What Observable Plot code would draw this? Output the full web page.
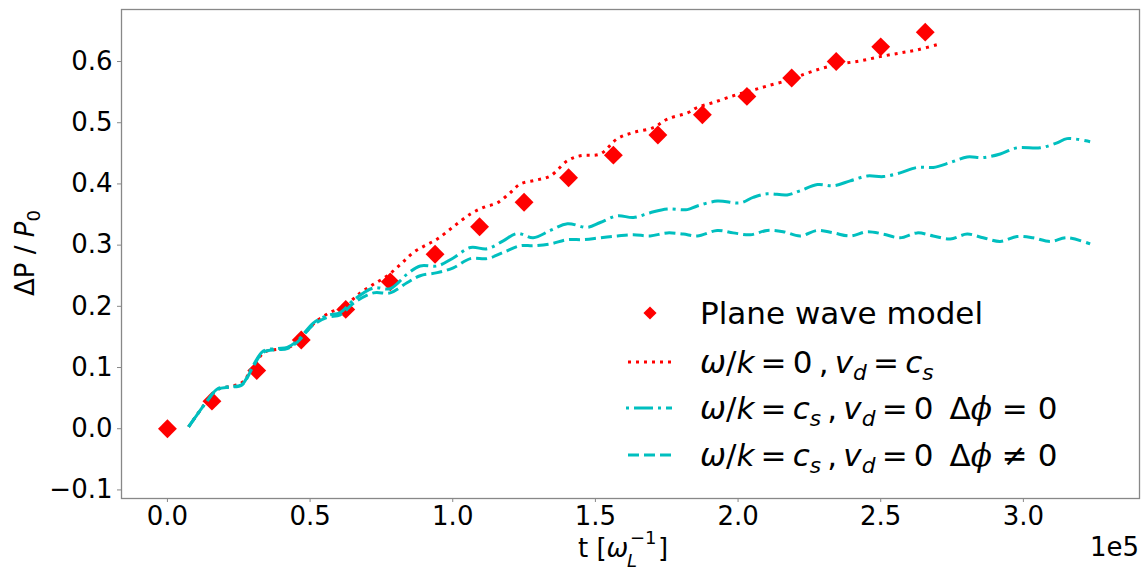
<!DOCTYPE html>
<html>
<head>
<meta charset="utf-8">
<script src="https://cdn.jsdelivr.net/npm/d3@7"></script>
<script src="https://cdn.jsdelivr.net/npm/@observablehq/plot@0.6"></script>
<style>
  html, body { margin: 0; padding: 0; background: #fff; }
  #chart { width: 1146px; height: 572px; }
</style>
</head>
<body>
<div id="chart"></div>
<script>
// time in units of 1e5 (omega_L^-1)
const tModel = [0, 0.156, 0.313, 0.469, 0.625, 0.781, 0.938, 1.094, 1.25, 1.406, 1.563, 1.719, 1.875, 2.031, 2.188, 2.344, 2.5, 2.656];
const yModel = [0.0, 0.045, 0.095, 0.145, 0.195, 0.24, 0.285, 0.33, 0.37, 0.41, 0.447, 0.48, 0.513, 0.543, 0.573, 0.6, 0.624, 0.648];

const tRed = [0.074, 0.14, 0.175, 0.22, 0.26, 0.30, 0.34, 0.39, 0.43, 0.47, 0.52, 0.57, 0.62, 0.676, 0.722, 0.771, 0.82, 0.862, 0.906, 0.946, 1.002, 1.062, 1.11, 1.156, 1.20, 1.237, 1.29, 1.342, 1.402, 1.447, 1.517, 1.577, 1.633, 1.703, 1.752, 1.822, 1.857, 1.913, 1.983, 2.043, 2.102, 2.172, 2.218, 2.288, 2.358, 2.428, 2.498, 2.568, 2.628, 2.709];
const yRed = [0.003, 0.046, 0.064, 0.069, 0.075, 0.10, 0.125, 0.13, 0.134, 0.15, 0.175, 0.19, 0.20, 0.222, 0.236, 0.25, 0.27, 0.288, 0.30, 0.31, 0.33, 0.351, 0.362, 0.369, 0.385, 0.40, 0.406, 0.413, 0.438, 0.446, 0.449, 0.474, 0.484, 0.492, 0.506, 0.516, 0.525, 0.533, 0.544, 0.552, 0.56, 0.569, 0.577, 0.588, 0.596, 0.601, 0.608, 0.614, 0.619, 0.629];

const tDashDot = [0.074, 0.14, 0.175, 0.22, 0.26, 0.30, 0.336, 0.385, 0.42, 0.456, 0.512, 0.561, 0.606, 0.652, 0.722, 0.781, 0.841, 0.886, 0.946, 1.002, 1.062, 1.121, 1.177, 1.226, 1.282, 1.342, 1.402, 1.472, 1.517, 1.577, 1.633, 1.692, 1.752, 1.822, 1.857, 1.927, 2.008, 2.053, 2.102, 2.172, 2.218, 2.278, 2.334, 2.393, 2.453, 2.509, 2.568, 2.628, 2.684, 2.744, 2.803, 2.859, 2.919, 2.978, 3.059, 3.118, 3.153, 3.234];
const yDashDot = [0.003, 0.046, 0.065, 0.069, 0.072, 0.103, 0.127, 0.131, 0.133, 0.144, 0.173, 0.185, 0.19, 0.21, 0.23, 0.229, 0.253, 0.266, 0.266, 0.279, 0.296, 0.294, 0.307, 0.319, 0.312, 0.324, 0.335, 0.329, 0.337, 0.348, 0.345, 0.353, 0.359, 0.358, 0.364, 0.372, 0.369, 0.378, 0.384, 0.382, 0.389, 0.399, 0.397, 0.405, 0.413, 0.412, 0.418, 0.427, 0.427, 0.435, 0.444, 0.443, 0.449, 0.459, 0.459, 0.467, 0.474, 0.469];

const tDashed = [0.074, 0.14, 0.175, 0.22, 0.26, 0.30, 0.336, 0.385, 0.42, 0.456, 0.512, 0.561, 0.606, 0.652, 0.722, 0.781, 0.841, 0.886, 0.946, 1.002, 1.062, 1.121, 1.177, 1.237, 1.282, 1.342, 1.402, 1.458, 1.517, 1.577, 1.633, 1.692, 1.752, 1.808, 1.857, 1.927, 1.983, 2.043, 2.102, 2.158, 2.218, 2.278, 2.334, 2.393, 2.453, 2.509, 2.568, 2.628, 2.684, 2.744, 2.803, 2.859, 2.919, 2.978, 3.034, 3.094, 3.153, 3.234];
const yDashed = [0.003, 0.046, 0.064, 0.068, 0.071, 0.101, 0.125, 0.129, 0.131, 0.142, 0.17, 0.182, 0.186, 0.205, 0.222, 0.222, 0.239, 0.25, 0.255, 0.263, 0.278, 0.278, 0.288, 0.299, 0.299, 0.302, 0.309, 0.309, 0.312, 0.315, 0.317, 0.315, 0.320, 0.318, 0.315, 0.324, 0.320, 0.317, 0.324, 0.322, 0.315, 0.324, 0.320, 0.315, 0.322, 0.318, 0.312, 0.320, 0.315, 0.310, 0.318, 0.312, 0.306, 0.314, 0.312, 0.306, 0.312, 0.302];

const xTicks = [0, 0.5, 1.0, 1.5, 2.0, 2.5, 3.0];
const yTicks = [-0.1, 0, 0.1, 0.2, 0.3, 0.4, 0.5, 0.6];

const RED = "#ff0000";
const CYAN = "#00bfbf";

const model = tModel.map((t, i) => ({t, y: yModel[i]}));
const red = tRed.map((t, i) => ({t, y: yRed[i]}));
const dashDot = tDashDot.map((t, i) => ({t, y: yDashDot[i]}));
const dashed = tDashed.map((t, i) => ({t, y: yDashed[i]}));

const W = 1146, H = 572;
const mL = 121, mR = 7, mT = 9, mB = 74;
const TICK_FS = 26;

const chart = Plot.plot({
  width: W,
  height: H,
  marginLeft: mL,
  marginRight: mR,
  marginTop: mT,
  marginBottom: mB,
  style: {fontFamily: "DejaVu Sans", fontSize: TICK_FS + "px", color: "#000", background: "#fff", overflow: "visible"},
  x: {domain: [-0.161, 3.407]},
  y: {domain: [-0.114, 0.685]},
  marks: [
    Plot.axisX({ticks: xTicks, tickFormat: d3.format(".1f"), tickSize: 4, tickPadding: 4, stroke: "#888", fill: "#000", label: null}),
    Plot.axisY({ticks: yTicks, tickFormat: d3.format(".1f"), tickSize: 4, tickPadding: 5, stroke: "#888", fill: "#000", label: null}),
    Plot.dot(model, {x: "t", y: "y", symbol: "diamond2", r: 8.5, fill: RED, stroke: "none"}),
    Plot.line(red, {x: "t", y: "y", stroke: RED, strokeWidth: 3, strokeDasharray: "3,5", strokeLinecap: "butt", curve: "catmull-rom"}),
    Plot.line(dashDot, {x: "t", y: "y", stroke: CYAN, strokeWidth: 3, strokeDasharray: "19,5,3,5", strokeLinecap: "butt", curve: "catmull-rom"}),
    Plot.line(dashed, {x: "t", y: "y", stroke: CYAN, strokeWidth: 3, strokeDasharray: "11,5", strokeLinecap: "butt", curve: "catmull-rom"}),
    Plot.frame({stroke: "#888", strokeWidth: 1.3})
  ]
});

document.getElementById("chart").appendChild(chart);

const svg = d3.select(chart);
// enforce tick label size on all library-drawn texts
svg.selectAll("g").filter(function() { return this.querySelector("text"); })
  .attr("font-size", TICK_FS).style("font-size", TICK_FS + "px");
svg.selectAll("text").attr("font-size", TICK_FS).style("font-size", TICK_FS + "px").attr("font-family", "DejaVu Sans");

function mathText(g, x, y, size, segs) {
  const t = g.append("text").attr("x", x).attr("y", y)
    .attr("text-anchor", "start")
    .attr("font-family", "DejaVu Sans").attr("font-size", size).style("font-size", size + "px").attr("fill", "#000");
  for (const s of segs) {
    const sp = t.append("tspan").text(s.t);
    if (s.i) sp.attr("font-style", "italic");
    if (s.serif) sp.attr("font-family", "DejaVu Serif");
    if (s.sub) { sp.attr("font-size", size * 0.7).style("font-size", (size * 0.7) + "px").attr("dy", size * 0.22); }
    if (s.up) { sp.attr("dy", -size * 0.22); }
  }
  return t;
}
function plain(g, x, y, size, str, opts = {}) {
  const t = g.append("text").attr("x", x).attr("y", y)
    .attr("text-anchor", opts.anchor || "start")
    .attr("font-family", "DejaVu Sans").attr("font-size", size).style("font-size", size + "px").attr("fill", "#000").text(str);
  if (opts.italic) t.attr("font-style", "italic");
  return t;
}

const g = svg.append("g").attr("text-anchor", "start");

// y axis label
mathText(g, 0, 0, 26, [
  {t: "ΔP"}, {t: " / "}, {t: "P", i: true}, {t: "0", sub: true}
]).attr("transform", "translate(34,253) rotate(-90)").attr("text-anchor", "middle");

// x label: t [ω_L^-1]
{
  const x0 = 578;
  mathText(g, x0, 557, 26, [{t: "t ["}, {t: "ω", i: true}]);
  const wx = x0 + 51;
  plain(g, wx + 1, 544, 18, "−1");
  plain(g, wx - 2, 567, 18, "L", {italic: true});
  plain(g, wx + 29, 557, 26, "]");
}

// offset text
plain(g, 1139, 556, 26, "1e5", {anchor: "end"});

// legend
const lg = svg.append("g").attr("text-anchor", "start");
const hx0 = 628, hx1 = 672, tx = 700, fs = 31;
const rows = [313, 362, 408, 455];
lg.append("path").attr("d", d3.symbol(d3.symbolDiamond2, 110)()).attr("transform", `translate(${(hx0 + hx1) / 2},${rows[0]})`).attr("fill", RED);
lg.append("line").attr("x1", hx0).attr("x2", hx1).attr("y1", rows[1]).attr("y2", rows[1]).attr("stroke", RED).attr("stroke-width", 3).attr("stroke-dasharray", "3,5");
lg.append("line").attr("x1", hx0 - 2).attr("x2", hx1).attr("y1", rows[2]).attr("y2", rows[2]).attr("stroke", CYAN).attr("stroke-width", 3).attr("stroke-dasharray", "3,5,19,5");
lg.append("line").attr("x1", hx0).attr("x2", hx1).attr("y1", rows[3]).attr("y2", rows[3]).attr("stroke", CYAN).attr("stroke-width", 3).attr("stroke-dasharray", "11,5");

const base = 11;
const ts = "\u2009"; // thin space
plain(lg, tx, rows[0] + base, fs, "Plane wave model");
mathText(lg, tx, rows[1] + base, fs, [
  {t: "ω", i: true}, {t: "/"}, {t: "k", i: true}, {t: `${ts}=${ts}0${ts},${ts}`}, {t: "v", i: true}, {t: "d", i: true, sub: true}, {t: `${ts}=${ts}`, up: true}, {t: "c", i: true}, {t: "s", i: true, sub: true}
]);
mathText(lg, tx, rows[2] + base, fs, [
  {t: "ω", i: true}, {t: "/"}, {t: "k", i: true}, {t: `${ts}=${ts}`}, {t: "c", i: true}, {t: "s", i: true, sub: true}, {t: `${ts},${ts}`, up: true}, {t: "v", i: true}, {t: "d", i: true, sub: true}, {t: `${ts}=${ts}0 ${ts}Δ`, up: true}, {t: "ϕ", i: true, serif: true}, {t: " = 0"}
]);
mathText(lg, tx, rows[3] + base, fs, [
  {t: "ω", i: true}, {t: "/"}, {t: "k", i: true}, {t: `${ts}=${ts}`}, {t: "c", i: true}, {t: "s", i: true, sub: true}, {t: `${ts},${ts}`, up: true}, {t: "v", i: true}, {t: "d", i: true, sub: true}, {t: `${ts}=${ts}0 ${ts}Δ`, up: true}, {t: "ϕ", i: true, serif: true}, {t: " ≠ 0"}
]);
</script>
</body>
</html>
